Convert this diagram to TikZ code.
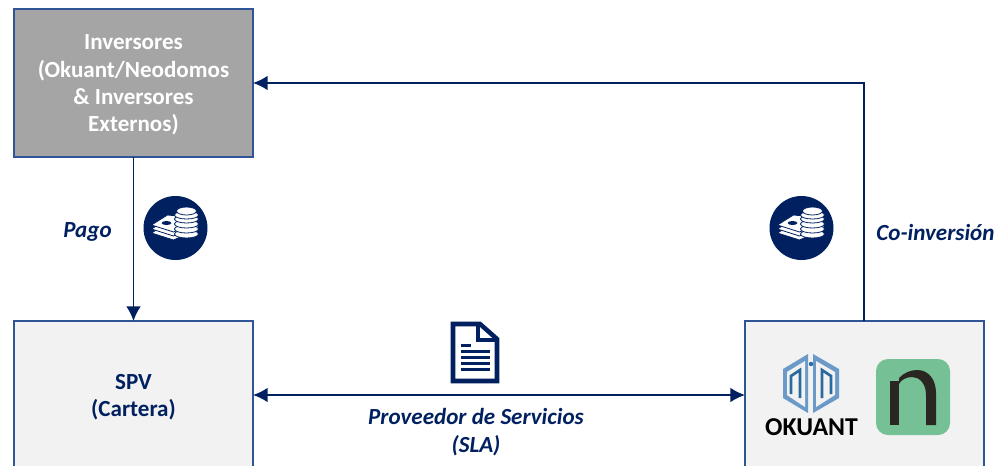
\documentclass[tikz,border=0pt]{standalone}
\usepackage{fontspec}
\setmainfont{Carlito}
\usetikzlibrary{arrows.meta}
\definecolor{edge}{HTML}{2F5597}
\definecolor{greybox}{HTML}{A5A5A5}
\definecolor{lightbox}{HTML}{F2F2F2}
\definecolor{nav}{HTML}{002060}
\definecolor{okdark}{HTML}{2A6A9E}
\definecolor{oklight}{HTML}{6C9AC8}
\definecolor{ngreen}{HTML}{75C095}
\definecolor{nblack}{HTML}{2A2723}
\tikzset{
  px/.style={x=0.75pt,y=-0.75pt},
  boxnode/.style={draw=edge,line width=1.7pt,minimum width=179.25pt,inner sep=0pt,outer sep=0pt,anchor=north west},
  boxtext/.style={font=\fontsize{17.3}{20.6}\selectfont\bfseries,align=center,inner sep=0pt},
  lbl/.style={font=\fontsize{17.3}{21.5}\selectfont\bfseries\itshape,text=nav,align=center,inner sep=0pt},
  link/.style={draw=nav,line width=1.2pt,-{Latex[length=11pt,width=11pt]}},
  linkboth/.style={draw=nav,line width=1.2pt,{Latex[length=11pt,width=11pt]}-{Latex[length=11pt,width=11pt]}},
  disc/.style={circle,fill=nav,minimum size=48pt,inner sep=0pt},
  layer/.style={fill=white,draw=nav,line width=0.6pt}
}
\newcommand{\coinicon}[1]{%
  \begin{scope}[shift={(#1)}]
    \foreach \d in {8,4,0}{
      \fill[layer] (-24,{-3+\d}) -- (-8,{-13+\d}) -- (23,{-10+\d}) -- (23,{-7+\d}) -- (-2,{4+\d}) -- cycle;
    }
    \fill[nav] (-9,-5) ellipse (5 and 2);
    \foreach \y in {6,1,-4,-9,-13}{
      \fill[layer] (11,\y) ellipse (12 and 4);
    }
    \fill[layer] (11,-17) ellipse (10 and 4);
  \end{scope}}
\begin{document}
\begin{tikzpicture}[px]
\useasboundingbox (0,0) rectangle (997,465);
\begin{scope}
\clip (0,0) rectangle (997,465);
\node[boxnode,fill=greybox,minimum height=111pt] (inv) at (14,9) {};
\node[boxnode,fill=lightbox,minimum height=120pt] (spv) at (14,321) {};
\node[boxnode,fill=lightbox,minimum height=120pt] (oku) at (745,321) {};
\end{scope}
\node[boxtext,text=white] (invt) at (133.5,85) {Inversores\\(Okuant/Neodomos\\\& Inversores\\Externos)};
\node[boxtext,text=nav] (spvt) at (133.5,397) {SPV\\(Cartera)};
\coordinate (pagoEnd) at (133.5,321);
\coordinate (coTop) at (864,83);
\coordinate (invIn) at (253,83);
\coordinate (spvR) at (253,395);
\coordinate (okuL) at (745,395);
\coordinate (invB) at (133.5,157);
\coordinate (okuT) at (864,321);
\draw[link] (invB) -- (pagoEnd);
\draw[link] (okuT) -- (coTop) -- (invIn);
\draw[linkboth] (spvR) -- (okuL);
\node[lbl] (pago) at (87.5,232) {Pago};
\node[lbl] (coinv) at (935.5,232) {Co-inversión};
\node[lbl] (prov) at (476,432) {Proveedor de Servicios\\(SLA)};
\node[disc] (d1) at (175.5,228) {};
\coinicon{175.5,228}
\node[disc] (d2) at (801.5,228) {};
\coinicon{801.5,228}
% document icon
\fill[white,draw=nav,line width=3.4pt,line join=miter] (453,324) -- (480,324) -- (497,339) -- (497,381) -- (453,381) -- cycle;
\draw[nav,line width=3.2pt] (478,324) -- (478,340) -- (497,340);
\fill[nav] (461,344) rectangle (471,347);
\foreach \y in {350,356,362,368}{
  \fill[nav] (461,{\y}) rectangle (490,{\y+3});
}
% Okuant logo
\fill[oklight] (808,354) -- (808,413) -- (783,398) -- (783,369) -- cycle;
\fill[lightbox] (805,361) -- (805,407) -- (787,395) -- (787,372) -- cycle;
\fill[oklight] (813,354) -- (813,413) -- (839,398) -- (839,369) -- cycle;
\fill[lightbox] (816,361) -- (816,407) -- (835,395) -- (835,372) -- cycle;
\draw[okdark,line width=2pt] (791,394) -- (791,376) -- (800,370) -- (800,398);
\draw[okdark,line width=2pt] (831,394) -- (831,376) -- (822,370) -- (822,398);
\fill[okdark] (811,364) circle (2.2);
\node[font=\fontsize{19.3}{22}\selectfont\bfseries,text=black,inner sep=0pt] (okutxt) at (811.5,427) {OKUANT};
% n logo
\fill[ngreen,rounded corners=9pt] (876,359) rectangle (950,435);
\fill[nblack] (890,381) -- (899,381) -- (899,425) -- (890,425) -- cycle;
\fill[nblack] (899,378) .. controls (904,373) and (910,370) .. (917,370) .. controls (929,370) and (936,380) .. (936,393) -- (936,425) -- (926,425) -- (926,395) .. controls (926,383) and (919,377) .. (912,377) .. controls (906,377) and (901,380) .. (899,384) -- cycle;
\end{tikzpicture}
\end{document}
